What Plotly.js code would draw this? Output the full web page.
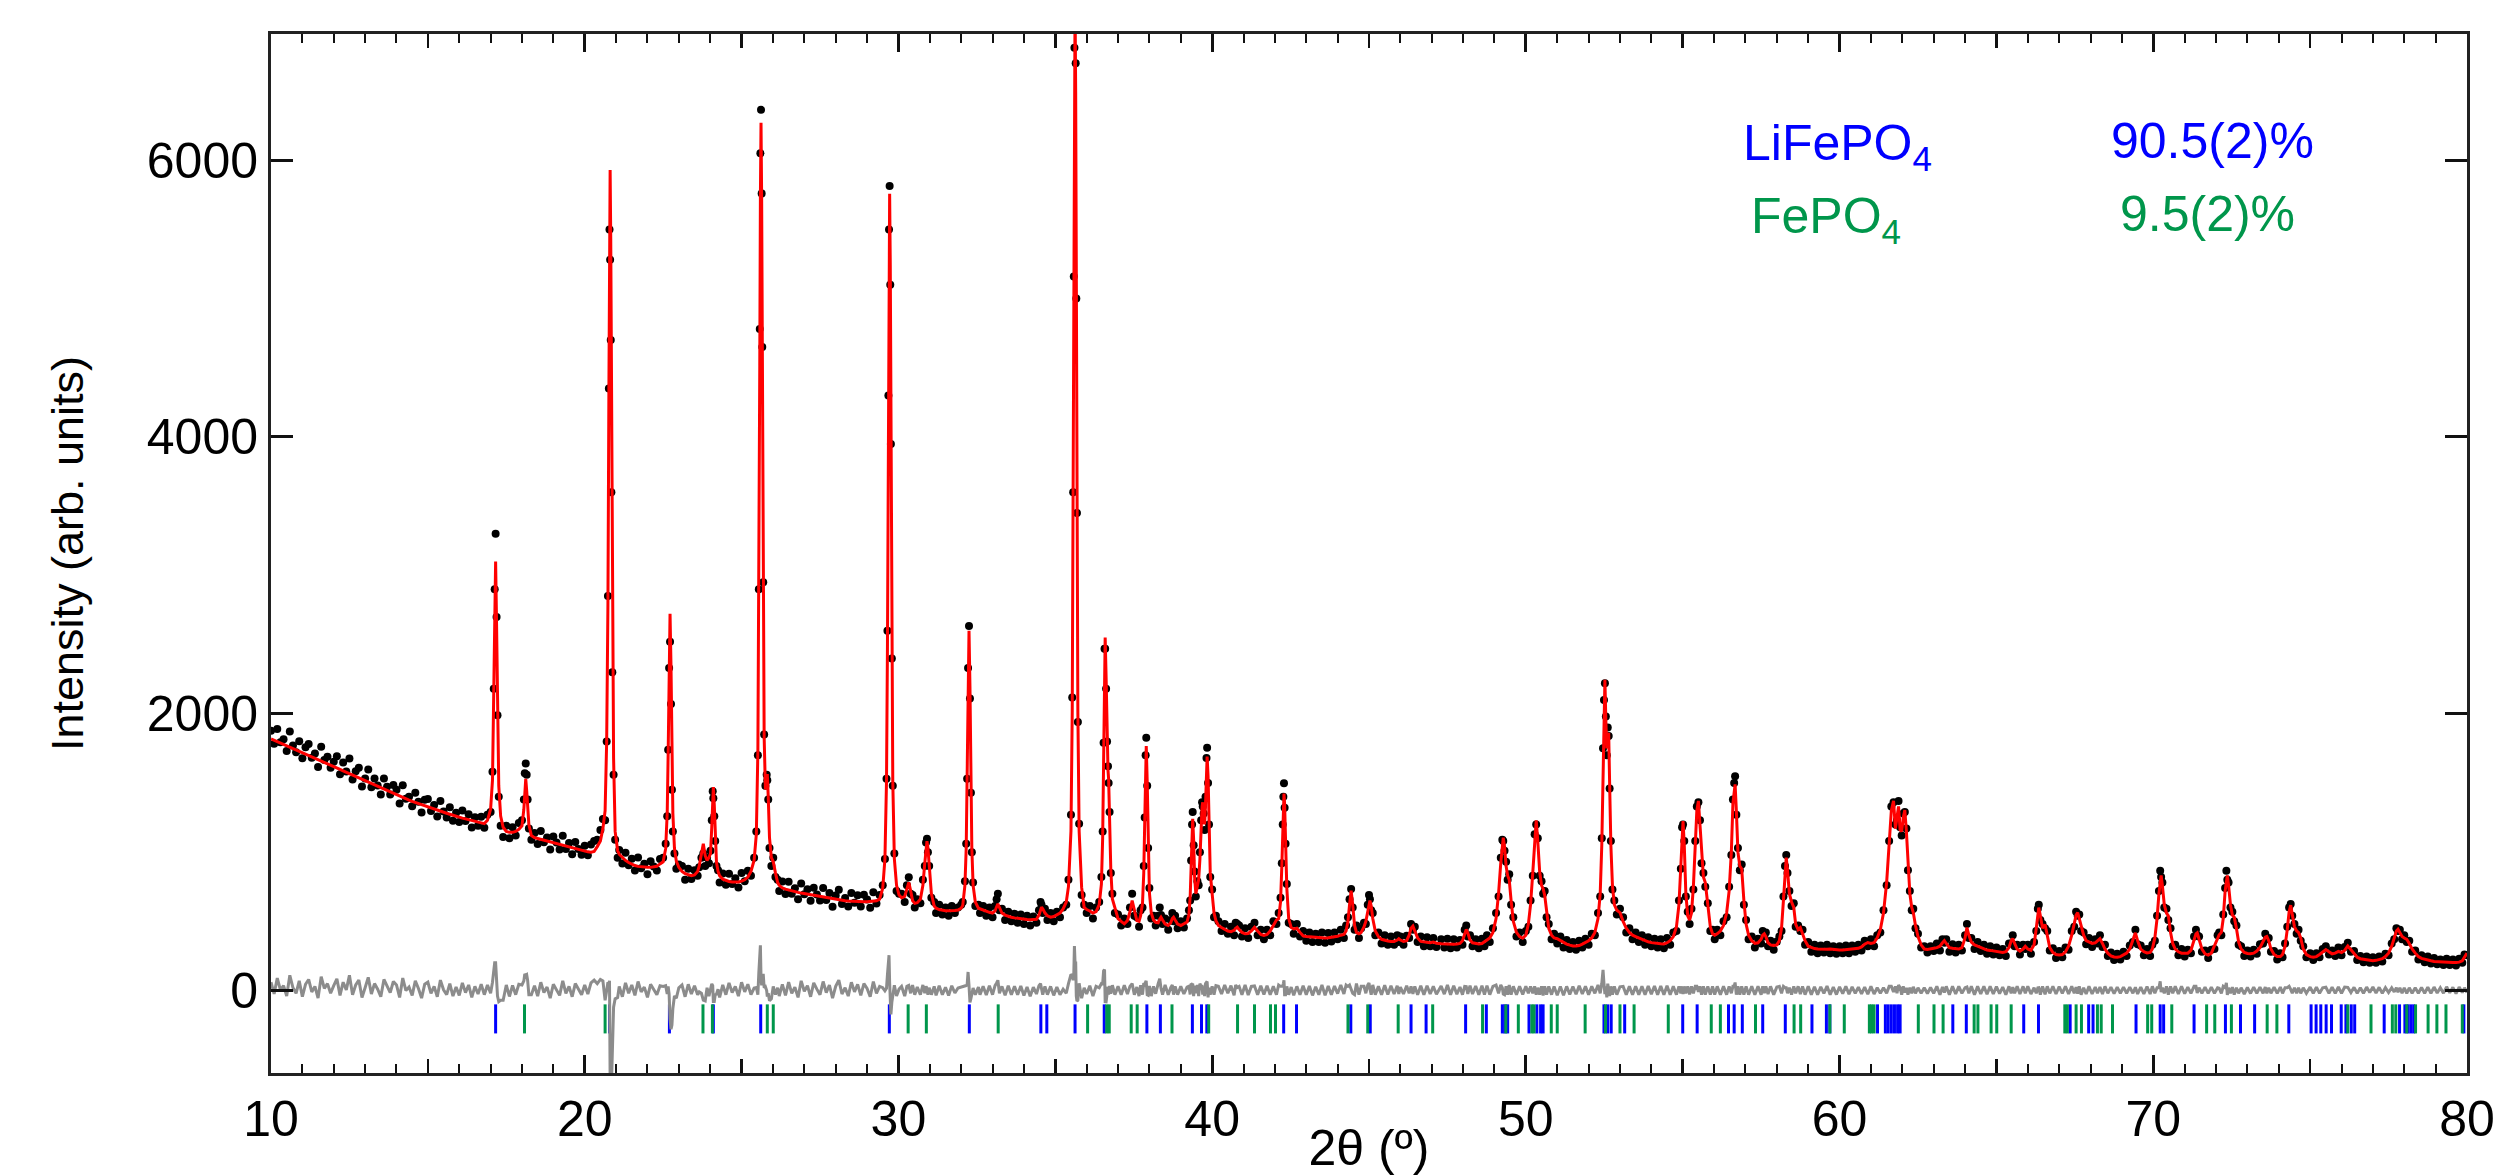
<!DOCTYPE html>
<html>
<head>
<meta charset="utf-8">
<script src="https://cdn.plot.ly/plotly-3.0.1.min.js"></script>
<style>
html, body { margin: 0; padding: 0; background: #ffffff; }
#chart { width: 2495px; height: 1176px; }
</style>
</head>
<body>
<div id="chart"></div>
<script>
// ---------------- DATA ----------------
// 2theta positions (degrees) of the plotted scan points
const twoTheta = [
  10.0,10.1,10.2,10.3,10.4,10.5,10.6,10.7,10.8,10.9,
  11.0,11.1,11.2,11.3,11.4,11.5,11.6,11.7,11.8,11.9,
  12.0,12.1,12.2,12.3,12.4,12.5,12.6,12.7,12.8,12.9,
  13.0,13.1,13.2,13.3,13.4,13.5,13.6,13.7,13.8,13.9,
  14.0,14.1,14.2,14.3,14.4,14.5,14.6,14.7,14.8,14.9,
  15.0,15.1,15.2,15.3,15.4,15.5,15.6,15.7,15.8,15.9,
  16.0,16.1,16.2,16.3,16.4,16.5,16.6,16.7,16.8,
  16.9,17.0,17.06,17.1,17.13,17.16,17.19,17.22,17.26,17.32,17.4,17.5,17.6,17.7,17.8,17.9,18.0,18.06,18.09,18.12,18.15,18.18,18.22,18.3,
  18.4,18.5,18.6,18.7,18.8,18.9,19.0,19.1,19.2,19.3,19.4,19.5,19.6,19.7,19.8,19.9,20.0,20.1,20.2,20.3,20.4,
  20.5,20.58,20.65,20.7,20.74,20.77,20.79,20.81,20.83,20.85,20.88,20.92,20.97,21.05,
  21.1,21.2,21.3,21.4,21.5,21.6,21.7,21.8,21.9,22.0,22.1,22.2,22.3,22.4,
  22.5,22.58,22.63,22.66,22.69,22.72,22.75,22.78,22.81,22.86,22.92,23.0,
  23.1,23.2,23.3,23.4,23.5,23.6,23.65,23.72,23.78,23.84,23.9,23.96,24.01,24.05,24.08,24.1,24.13,24.16,24.2,24.25,24.3,
  24.4,24.5,24.6,24.7,24.8,24.9,25.0,25.1,25.2,25.3,
  25.4,25.47,25.52,25.55,25.58,25.6,25.62,25.64,25.66,25.69,25.72,25.76,25.8,25.82,25.85,25.89,25.95,26.01,26.08,26.15,26.2,
  26.3,26.4,26.5,26.6,26.7,26.8,26.9,27.0,27.1,27.2,27.3,27.4,27.5,27.6,27.7,27.8,27.9,28.0,28.1,28.2,28.3,28.4,28.5,28.6,28.7,28.8,28.9,29.0,29.1,29.2,29.3,29.4,
  29.5,29.57,29.62,29.65,29.68,29.7,29.72,29.74,29.76,29.79,29.82,29.87,29.94,30.02,
  30.1,30.2,30.27,30.33,30.39,30.45,30.52,30.6,30.7,30.78,30.84,30.88,30.91,30.94,30.98,31.05,31.14,31.2,31.3,31.4,31.5,31.6,31.7,31.8,31.9,32.0,
  32.05,32.12,32.16,32.19,32.22,32.25,32.28,32.31,32.34,32.38,32.45,32.55,
  32.6,32.7,32.8,32.9,33.0,33.08,33.13,33.17,33.22,33.3,33.4,33.5,33.6,33.7,33.8,33.9,34.0,34.1,34.2,34.3,34.4,34.48,34.53,34.56,34.6,34.67,34.75,34.85,34.95,35.05,35.15,35.25,35.35,35.42,
  35.5,35.54,35.57,35.59,35.61,35.63,35.65,35.67,35.69,35.72,35.76,35.84,35.92,
  36.0,36.1,36.2,36.3,36.4,36.47,36.51,36.54,36.57,36.59,36.62,36.65,36.68,36.7,36.73,36.77,36.82,36.9,37.0,
  37.1,37.2,37.3,37.38,37.45,37.52,37.6,37.67,37.72,37.78,37.82,37.85,37.88,37.9,37.93,37.96,38.0,38.06,38.13,
  38.2,38.28,38.33,38.37,38.42,38.5,38.6,38.68,38.73,38.77,38.82,38.9,39.0,39.1,39.2,39.26,39.3,39.33,39.36,39.38,
  39.41,39.44,39.48,39.53,39.57,39.61,39.65,39.68,39.7,39.73,39.76,39.79,39.82,39.84,39.87,39.9,39.94,40.0,40.06,40.12,
  40.2,40.3,40.4,40.5,40.6,40.7,40.75,40.8,40.86,40.95,41.05,41.15,41.25,41.35,41.45,41.55,41.65,41.75,41.85,41.95,
  42.05,42.12,42.18,42.22,42.25,42.27,42.29,42.31,42.34,42.38,42.44,42.52,42.6,42.7,42.8,42.9,
  43.0,43.1,43.2,43.3,43.4,43.5,43.6,43.7,43.8,43.9,44.0,44.1,44.2,
  44.27,44.33,44.38,44.43,44.48,44.54,44.6,44.68,44.75,44.84,44.9,44.96,45.0,45.03,45.07,45.12,45.2,45.3,45.4,45.5,
  45.6,45.7,45.8,45.9,45.95,46.0,46.1,46.2,46.28,46.34,46.4,46.46,46.55,46.65,46.75,46.85,46.95,47.05,47.15,47.3,
  47.4,47.5,47.6,47.7,47.8,47.9,47.98,48.05,48.1,48.15,48.22,48.3,48.4,48.5,48.6,48.68,48.76,48.85,48.95,
  49.05,49.13,49.2,49.25,49.28,49.32,49.37,49.42,49.47,49.53,49.6,49.7,49.8,49.9,50.0,50.08,50.15,50.22,50.28,50.33,
  50.38,50.44,50.5,50.55,50.6,50.66,50.73,50.82,50.9,51.0,51.1,51.2,51.3,51.4,51.5,51.6,51.7,51.8,51.9,52.0,
  52.1,52.2,52.3,52.37,52.42,52.46,52.49,52.52,52.55,52.58,52.61,52.64,52.67,52.71,52.76,52.82,52.9,53.0,
  53.1,53.2,53.3,53.4,53.5,53.6,53.7,53.8,53.9,54.0,54.1,54.2,54.3,54.4,54.5,54.6,54.7,54.8,
  54.88,54.94,54.98,55.01,55.05,55.1,55.16,55.22,55.28,55.34,55.4,55.45,55.5,55.55,55.6,55.66,55.72,55.8,55.88,55.95,
  56.02,56.1,56.2,56.3,56.4,56.48,56.55,56.6,56.64,56.67,56.71,56.76,56.82,56.88,56.95,57.02,57.1,57.2,57.3,57.4,
  57.5,57.55,57.6,57.65,57.72,57.8,57.9,58.0,
  58.08,58.15,58.21,58.26,58.3,58.34,58.4,58.47,58.54,58.6,58.68,58.75,58.82,58.9,59.0,59.1,59.2,59.3,59.4,59.5,
  59.6,59.7,59.8,59.9,60.0,60.1,60.2,60.3,60.4,60.5,60.6,60.7,60.8,60.9,61.0,61.1,61.2,61.3,61.4,61.5,
  61.58,61.65,61.72,61.78,61.83,61.88,61.93,61.98,62.03,62.08,62.13,62.18,62.24,62.3,62.35,62.42,62.5,62.6,62.7,62.8,62.9,63.0,
  63.1,63.2,63.28,63.34,63.4,63.5,63.6,63.7,63.8,63.9,64.0,64.06,64.12,64.2,64.3,64.4,64.5,64.6,64.7,64.8,
  64.9,65.0,65.1,65.2,65.3,65.4,65.47,65.52,65.58,65.66,65.75,65.85,65.92,66.0,66.1,66.2,66.27,66.32,66.35,66.4,
  66.47,66.55,66.62,66.7,66.8,66.9,67.0,67.1,67.2,67.3,67.4,67.48,67.54,67.59,67.64,67.7,67.78,67.86,67.95,68.05,
  68.15,68.22,68.3,68.38,68.46,68.55,68.65,68.75,68.85,68.95,69.05,69.15,69.25,69.35,69.43,69.5,69.6,69.7,69.8,69.9,69.97,70.05,
  70.12,70.18,70.22,70.25,70.29,70.35,70.42,70.48,70.55,70.62,70.7,70.8,70.9,71.0,71.1,71.2,71.3,71.36,71.4,71.46,
  71.55,71.65,71.75,71.85,71.95,72.05,72.1,72.17,72.23,72.29,72.33,72.36,72.4,72.46,72.52,72.58,72.65,72.72,72.8,72.9,
  73.0,73.1,73.2,73.3,73.4,73.5,73.57,73.62,73.68,73.75,73.85,73.95,74.05,74.12,74.2,74.27,74.33,74.38,74.43,74.5,
  74.57,74.63,74.7,74.78,74.88,75.0,75.1,75.2,75.3,75.4,75.5,75.6,75.7,75.8,75.9,76.0,76.1,76.2,76.3,76.4,
  76.5,76.6,76.7,76.8,76.9,77.0,77.1,77.2,77.3,77.4,77.5,77.6,77.68,77.75,77.8,77.86,77.93,78.0,78.08,78.16,
  78.25,78.35,78.45,78.55,78.65,78.75,78.85,78.95,79.05,79.15,79.25,79.35,79.45,79.55,79.65,79.75,79.85,79.92,80.0
];

// observed intensity (black dots)
const yObs = [
  1878,1783,1889,1794,1815,1730,1871,1771,1722,1802,
  1678,1758,1782,1682,1712,1616,1761,1665,1690,1609,
  1654,1693,1563,1647,1582,1676,1525,1585,1609,1474,
  1533,1598,1468,1532,1482,1417,1532,1472,1416,1486,
  1451,1352,1483,1385,1401,1332,1429,1365,1286,1378,
  1384,1297,1340,1257,1370,1293,1251,1324,1226,1284,
  1217,1301,1225,1274,1178,1252,1191,1256,1176,
  1270,1290,1580,2180,2900,3300,2700,1990,1400,1190,1110,1190,1100,1180,1120,1210,1230,1380,1570,1640,1560,1380,1170,1090,
  1139,1058,1152,1071,1105,1019,1113,1070,1019,1118,1022,1066,985,1074,1023,982,1046,977,1055,1080,1090,
  1160,1240,1230,1800,2850,4350,5500,5280,4700,3600,2300,1560,1090,960,
  1015,917,995,905,952,868,962,883,916,840,935,897,868,950,
  960,1060,1260,1740,2330,2520,2070,1450,1150,990,880,910,
  900,800,880,805,870,830,890,960,990,900,960,920,1010,1230,1440,1390,1260,1080,900,870,780,
  845,765,843,769,812,744,850,790,865,830,
  960,1150,1700,2900,4780,6050,6364,5760,4650,2950,1850,1480,1560,1520,1380,1030,900,960,820,800,720,
  787,698,786,700,739,659,774,695,732,648,743,694,650,740,655,705,606,687,729,626,669,607,705,634,688,607,692,657,598,710,628,690,
  760,950,1530,2600,4300,5500,5814,5100,3950,2400,1480,990,720,700,
  700,640,760,819,700,690,600,660,630,800,900,1070,1096,1000,900,670,640,560,620,550,600,540,610,560,600,620,
  640,790,1060,1530,2330,2635,2110,1430,1000,780,610,620,
  560,610,540,600,530,610,660,700,580,590,510,570,500,555,490,550,480,540,470,535,490,580,640,620,560,590,510,560,500,570,530,600,620,800,
  1270,2117,3600,5160,6812,7350,6700,5000,3450,1940,1205,690,620,
  560,610,520,600,640,820,1150,1790,2470,2470,2180,1800,1620,1500,1290,850,700,560,550,
  470,520,480,600,700,540,530,460,580,600,900,1250,1700,1827,1480,1030,740,520,540,
  470,540,600,545,480,520,440,510,560,500,540,450,500,455,520,580,650,940,1200,1290,
  1050,860,680,790,760,1000,1230,1360,1330,1280,1160,1400,1680,1755,1500,1200,820,730,530,540,
  500,430,480,410,460,400,490,480,470,390,450,380,460,490,400,440,370,440,400,500,
  480,560,670,920,1200,1400,1497,1320,1060,770,490,480,410,480,390,430,
  360,420,350,410,350,420,345,415,355,420,370,440,380,
  470,530,660,734,600,440,470,380,450,490,480,620,690,660,580,560,400,420,340,400,
  330,390,330,400,350,390,330,395,380,480,440,460,350,390,320,385,320,380,315,370,
  310,375,305,370,310,365,330,440,470,390,400,320,370,305,375,320,400,350,450,
  560,680,960,1090,1080,1010,930,800,840,620,530,390,420,350,430,460,650,830,1130,1200,
  1100,830,790,700,720,530,480,370,410,340,390,310,365,300,350,295,360,310,375,330,
  410,400,560,680,1100,1750,2100,2220,1980,1700,1900,1840,1460,1080,730,650,550,590,
  530,420,450,370,420,350,400,330,385,320,375,310,370,305,380,330,420,430,
  650,880,1180,1200,1080,680,570,480,590,730,1080,1330,1360,1230,920,850,750,630,430,440,
  370,440,400,500,530,750,980,1380,1500,1548,1270,1030,870,910,620,510,370,390,310,375,
  340,430,390,420,320,360,295,355,
  390,430,680,900,980,850,720,610,630,460,470,430,440,330,350,280,330,270,325,275,
  330,270,320,265,320,270,325,270,325,280,330,290,360,320,370,320,400,420,580,760,
  1080,1330,1360,1200,1230,1370,1180,1120,1280,1290,1170,870,720,580,590,450,410,310,320,275,320,285,
  340,290,370,345,370,280,335,275,330,290,400,480,380,380,300,350,285,330,265,320,
  260,310,255,300,250,340,340,400,320,330,260,330,300,330,265,350,430,590,620,510,
  480,450,430,290,305,235,285,240,310,295,430,460,570,540,550,430,420,335,380,315,
  370,340,400,315,330,250,275,220,265,225,280,250,325,350,440,335,325,255,300,250,330,360,
  540,720,866,820,780,600,590,510,450,320,330,255,300,245,295,270,390,440,400,390,
  280,290,235,295,300,400,420,400,550,740,866,800,780,600,570,500,470,330,320,250,
  290,245,295,265,335,340,410,370,380,280,285,225,270,240,340,460,600,625,540,480,
  410,440,360,320,240,270,220,270,240,300,320,260,290,250,310,255,315,345,280,285,
  220,250,205,245,200,240,200,245,210,265,255,340,370,450,430,440,370,400,350,360,
  280,290,225,255,205,245,195,235,190,225,185,230,185,225,180,230,200,260,255
];

// calculated (refined) intensity (red line)
const yCalc = [
  1818,1808,1799,1789,1780,1770,1761,1751,1742,1732,
  1723,1713,1702,1692,1682,1671,1661,1650,1640,1629,
  1619,1608,1598,1587,1577,1566,1555,1545,1534,1524,
  1513,1503,1493,1482,1472,1462,1452,1442,1431,1421,
  1411,1402,1393,1385,1376,1367,1359,1350,1341,1333,
  1324,1317,1310,1302,1295,1288,1281,1274,1266,1259,
  1252,1246,1240,1234,1228,1222,1216,1211,1206,
  1230,1310,1520,2060,2700,3100,2650,2030,1480,1260,1180,1150,1143,1143,1150,1165,1190,1310,1450,1530,1445,1305,1200,1120,
  1104,1098,1092,1086,1080,1074,1068,1060,1054,1048,1042,1036,1030,1024,1018,1012,1006,1002,1000,1005,1040,
  1080,1170,1300,1800,2790,4300,5430,5930,5430,4300,2770,1680,1150,1010,
  985,962,940,925,912,903,897,893,891,890,890,892,898,915,
  930,1025,1285,1710,2354,2723,2350,1700,1280,1030,935,890,
  860,845,835,830,835,860,900,980,1060,975,940,960,990,1182,1405,1470,1340,1110,926,861,830,
  805,795,788,784,782,784,790,800,820,860,
  942,1128,1730,2770,4520,5723,6270,5723,4550,2830,1830,1453,1560,1564,1400,1104,960,930,850,780,760,
  742,733,726,720,714,709,704,700,697,693,688,684,680,675,670,665,661,657,654,651,649,647,645,644,643,642,642,642,643,645,648,660,
  740,952,1514,2485,4122,5245,5758,5245,4122,2485,1514,952,760,690,
  670,680,730,782,720,650,630,635,660,760,920,1040,1079,1030,880,700,610,595,585,580,577,576,576,578,582,595,
  615,762,1024,1489,2196,2600,2196,1489,1024,762,640,595,
  590,580,572,565,560,575,605,626,600,560,545,535,530,525,521,518,516,514,512,511,515,545,590,602,590,560,540,530,535,545,560,590,640,750,
  1153,2010,3526,5041,6491,7150,6491,5041,3526,2010,1153,745,600,
  585,575,560,570,620,769,1102,1648,2318,2550,2261,1792,1593,1530,1257,873,662,590,520,
  500,482,505,570,650,570,505,500,541,630,847,1205,1638,1766,1511,1064,707,560,510,
  493,490,515,530,510,480,470,490,520,530,510,480,470,480,495,549,678,891,1157,1240,
  1090,825,700,750,800,950,1200,1330,1360,1250,1200,1350,1620,1690,1550,1180,850,700,560,505,
  470,455,440,430,425,435,450,458,440,420,410,412,430,457,430,405,398,405,430,470,
  510,520,640,890,1170,1350,1423,1350,1090,740,520,455,445,450,420,395,
  390,388,385,383,380,380,380,382,385,388,392,400,405,
  430,500,620,722,620,470,420,410,420,460,500,580,635,650,610,520,430,390,370,362,
  358,355,355,365,375,365,355,360,400,450,465,430,380,355,350,350,345,350,342,338,
  336,335,335,335,336,340,360,410,442,415,365,345,338,336,340,350,365,380,420,
  520,700,920,1070,1105,1040,900,830,800,650,500,420,390,378,400,480,620,850,1100,1230,
  1080,860,760,735,690,560,450,400,380,375,360,345,335,328,322,322,325,335,345,360,
  380,420,520,700,1050,1600,2050,2246,1950,1750,1850,1861,1500,1050,760,620,580,563,
  500,450,420,400,390,380,370,360,352,346,342,340,338,336,345,360,390,460,
  620,900,1150,1225,1050,700,540,508,560,750,1050,1300,1370,1200,950,820,780,600,460,410,
  400,410,430,470,560,720,1000,1350,1470,1490,1300,1000,900,880,650,480,400,360,340,345,
  370,400,410,390,345,330,325,330,
  360,450,650,880,960,870,700,640,600,480,440,455,410,360,320,310,303,300,298,296,
  298,300,296,294,293,292,294,296,298,300,305,315,335,347,340,345,380,440,560,780,
  1050,1300,1370,1170,1250,1330,1160,1150,1250,1304,1150,900,700,600,563,470,390,330,300,296,298,305,
  310,320,345,360,340,310,305,300,300,310,380,455,400,350,330,320,310,300,292,290,
  285,282,278,275,280,310,360,375,340,300,285,300,320,300,290,330,450,570,599,540,
  450,477,400,310,275,260,256,260,280,320,400,480,545,563,520,460,400,360,350,340,
  345,360,375,340,300,270,250,242,240,245,255,270,300,370,417,360,300,280,272,275,300,380,
  520,700,800,832,760,620,560,540,420,340,300,280,270,268,270,290,360,410,417,370,
  300,265,256,270,320,380,403,420,520,720,810,832,760,620,545,530,450,350,300,275,
  268,266,270,285,310,360,385,390,360,300,260,245,245,260,320,440,570,617,560,460,
  430,420,380,300,260,245,240,245,260,280,296,280,265,270,283,275,290,322,295,262,
  240,230,225,220,215,215,218,222,230,245,270,320,380,430,442,420,390,380,370,340,
  300,270,245,232,225,220,215,210,208,205,204,203,202,202,203,205,215,240,270
];

// Bragg reflection positions (2theta) of each phase
const braggLiFePO4 = [17.16,20.79,22.70,24.10,25.61,29.71,32.26,34.54,34.73,35.63,36.56,37.92,38.35,39.37,39.66,39.83,
  42.28,42.69,44.42,45.04,46.34,46.82,48.08,48.74,49.25,49.33,49.42,50.10,50.35,50.47,50.55,52.49,52.61,52.72,53.15,
  55.00,55.46,56.46,56.64,56.90,57.55,58.27,59.12,59.58,59.69,61.21,61.46,61.55,61.65,61.75,61.85,61.93,63.61,64.04,
  65.87,66.34,67.35,67.94,68.08,69.45,70.22,70.33,71.30,72.30,72.78,73.23,74.32,75.03,75.19,75.34,75.51,75.68,75.99,
  76.14,76.31,76.42,77.36,77.85,78.02,78.12,78.21,78.30,79.90];
const braggFePO4 = [18.08,20.65,23.77,24.07,25.82,26.01,30.31,30.89,33.18,36.03,36.64,36.72,37.42,37.61,38.72,39.89,
  40.81,41.35,41.86,42.02,44.33,44.96,45.93,47.03,48.62,49.36,49.76,50.19,50.26,50.81,51.00,51.89,52.54,53.00,53.45,
  54.54,55.91,56.20,57.32,58.55,58.76,59.69,60.15,60.95,61.02,61.10,62.51,63.01,63.30,64.29,64.41,64.83,65.01,65.47,
  67.18,67.26,67.54,67.71,68.22,68.34,68.70,69.82,69.95,70.59,71.70,71.96,72.49,73.63,73.94,76.20,76.94,77.62,77.73,
  78.08,78.36,78.76,79.04,79.33,79.85];

// phase labels and refined weight fractions
const phaseNames = ['LiFePO<sub>4</sub>', 'FePO<sub>4</sub>'];
const phaseFractions = ['90.5(2)%', '9.5(2)%'];

// axis ticks
const xTickVals = [10, 20, 30, 40, 50, 60, 70, 80];
const xTickText = ['10', '20', '30', '40', '50', '60', '70', '80'];
const xMidTickVals = [15, 25, 35, 45, 55, 65, 75];
const yTickVals = [0, 2000, 4000, 6000];
const yTickText = ['0', '2000', '4000', '6000'];

// ---------------- STYLE ----------------
const FONT = 'Liberation Sans, Arial, Helvetica, sans-serif';
const BLUE = '#0000ff';
const GREEN = '#00964b';
const TICK_TOP = -100;     // Bragg marker vertical extent (intensity units)
const TICK_BOTTOM = -310;

// ---------------- BUILD ----------------
const n = Math.min(twoTheta.length, yObs.length, yCalc.length);
const xs = twoTheta.slice(0, n);
const obs = yObs.slice(0, n);
const calc = yCalc.slice(0, n);
const diff = obs.map((v, i) => v - calc[i]);   // Yobs - Ycalc

function braggSegments(positions) {
  const x = [], y = [];
  positions.forEach(p => { x.push(p, p, null); y.push(TICK_TOP, TICK_BOTTOM, null); });
  return {x, y};
}
const gB = braggSegments(braggFePO4);
const bB = braggSegments(braggLiFePO4);

const traces = [
  {x: xs, y: obs, type: 'scatter', mode: 'markers',
   marker: {color: '#000000', size: 8, line: {width: 0}}, hoverinfo: 'skip'},
  {x: xs, y: calc, type: 'scatter', mode: 'lines',
   line: {color: '#ff0000', width: 3}, hoverinfo: 'skip'},
  {x: gB.x, y: gB.y, type: 'scatter', mode: 'lines', xaxis: 'x2', yaxis: 'y',
   line: {color: GREEN, width: 3}, connectgaps: false, hoverinfo: 'skip'},
  {x: bB.x, y: bB.y, type: 'scatter', mode: 'lines',
   line: {color: BLUE, width: 3}, connectgaps: false, hoverinfo: 'skip'},
  {x: xs, y: diff, type: 'scatter', mode: 'lines',
   line: {color: '#8c8c8c', width: 3}, hoverinfo: 'skip'}
];

const W = 2495, H = 1176;
const M = {l: 271, r: 28, t: 34, b: 103};
function px2paperX(px) { return (px - M.l) / (W - M.l - M.r); }
function px2paperY(py) { return (H - M.b - py) / (H - M.t - M.b); }

const annotations = [
  {text: phaseNames[0], x: px2paperX(1837), y: px2paperY(146), font: {size: 50, color: BLUE}},
  {text: phaseFractions[0], x: px2paperX(2212), y: px2paperY(141), font: {size: 50, color: BLUE}},
  {text: phaseNames[1], x: px2paperX(1826), y: px2paperY(219), font: {size: 50, color: GREEN}},
  {text: phaseFractions[1], x: px2paperX(2207), y: px2paperY(214), font: {size: 50, color: GREEN}}
].map(a => Object.assign({xref: 'paper', yref: 'paper', showarrow: false,
                          xanchor: 'center', yanchor: 'middle'}, a, {font: Object.assign({family: FONT}, a.font)}));

const layout = {
  width: W, height: H,
  margin: {l: M.l, r: M.r, t: M.t, b: M.b, pad: 0},
  paper_bgcolor: '#ffffff', plot_bgcolor: '#ffffff',
  showlegend: false,
  font: {family: FONT, color: '#000000'},
  xaxis: {
    range: [10, 80], tickmode: 'array', tickvals: xTickVals, ticktext: xTickText,
    ticks: 'inside', ticklen: 18, tickwidth: 3, tickcolor: '#111111',
    showline: true, linecolor: '#222222', linewidth: 3, mirror: 'ticks',
    showgrid: false, zeroline: false,
    tickfont: {size: 50, family: FONT, color: '#000000'},
    minor: {tickmode: 'linear', tick0: 10, dtick: 1, ticks: 'inside', ticklen: 9, tickwidth: 2, tickcolor: '#111111', showgrid: false},
    title: {text: '2θ (º)', font: {size: 50, family: FONT, color: '#000000'}, standoff: 34}
  },
  xaxis2: {
    overlaying: 'x', anchor: 'y', side: 'bottom', range: [10, 80],
    tickmode: 'array', tickvals: xMidTickVals, showticklabels: false,
    ticks: 'inside', ticklen: 14, tickwidth: 2.5, tickcolor: '#111111',
    showline: false, mirror: 'ticks', showgrid: false, zeroline: false
  },
  yaxis: {
    range: [-596, 6912], tickmode: 'array', tickvals: yTickVals, ticktext: yTickText,
    ticks: 'inside', ticklen: 22, tickwidth: 3, tickcolor: '#111111',
    showline: true, linecolor: '#222222', linewidth: 3, mirror: 'ticks',
    showgrid: false, zeroline: false,
    tickfont: {size: 50, family: FONT, color: '#000000'},
    title: {text: 'Intensity (arb. units)', font: {size: 45, family: FONT, color: '#000000'}, standoff: 50}
  },
  annotations: annotations
};

Plotly.newPlot('chart', traces, layout, {staticPlot: true, displayModeBar: false, responsive: false});
</script>
</body>
</html>
